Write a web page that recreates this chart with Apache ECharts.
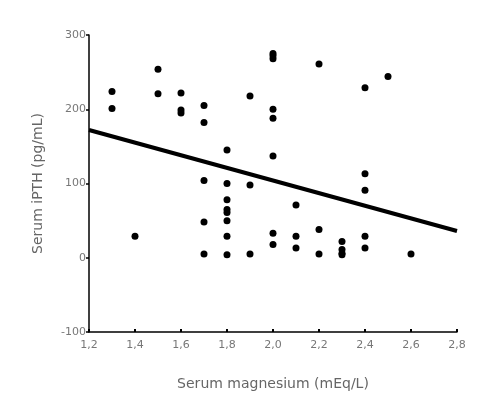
<!DOCTYPE html>
<html>
<head>
<meta charset="utf-8">
<script src="https://cdn.jsdelivr.net/npm/echarts@6/dist/echarts.min.js"></script>
<style>
  html, body { margin: 0; padding: 0; background: #fff; }
  #chart { width: 495px; height: 397px; }
</style>
</head>
<body>
<div id="chart"></div>
<script>
// magnesium (mEq/L) vs iPTH (pg/mL)
const magnesium = [
  1.3, 1.3,
  1.4,
  1.5, 1.5,
  1.6, 1.6, 1.6,
  1.7, 1.7, 1.7, 1.7, 1.7,
  1.8, 1.8, 1.8, 1.8, 1.8, 1.8, 1.8, 1.8,
  1.9, 1.9, 1.9,
  2.0, 2.0, 2.0, 2.0, 2.0, 2.0, 2.0, 2.0,
  2.1, 2.1, 2.1,
  2.2, 2.2, 2.2,
  2.3, 2.3, 2.3, 2.3,
  2.4, 2.4, 2.4, 2.4, 2.4,
  2.5,
  2.6
];
const ipth = [
  224, 201,
  29,
  254, 221,
  222, 199, 195,
  205, 182, 104, 48, 5,
  145, 100, 78, 65, 61, 50, 29, 4,
  218, 98, 5,
  275, 272, 268, 200, 188, 137, 33, 18,
  71, 29, 13,
  261, 38, 5,
  22, 11, 6, 4,
  229, 113, 91, 29, 13,
  244,
  5
];
// regression line end points
const fitX = [1.2, 2.8];
const fitY = [172, 36];

const points = magnesium.map((m, i) => [m, ipth[i]]);
const fitLine = fitX.map((x, i) => [x, fitY[i]]);

const myChart = echarts.init(document.getElementById('chart'));
const font = 'DejaVu Sans, sans-serif';
const labelStyle = { color: '#777', fontSize: 11, fontFamily: font };

let option = {
  backgroundColor: '#fff',
  animation: false,
  grid: { left: 89, right: 38, top: 35, bottom: 65 },
  xAxis: {
    type: 'value',
    min: 1.2, max: 2.8, interval: 0.2,
    name: 'Serum magnesium (mEq/L)',
    nameLocation: 'middle',
    nameGap: 45,
    nameTextStyle: { color: '#666', fontSize: 14, fontFamily: font },
    axisLine: { onZero: false, lineStyle: { color: '#000', width: 1.5 } },
    axisTick: { length: 3, inside: true, lineStyle: { color: '#000', width: 2 } },
    axisLabel: Object.assign({ margin: 8, formatter: v => v.toFixed(1).replace('.', ',') }, labelStyle),
    splitLine: { show: false }
  },
  yAxis: {
    type: 'value',
    min: -100, max: 300, interval: 100,
    name: 'Serum iPTH (pg/mL)',
    nameLocation: 'middle',
    nameGap: 44,
    nameTextStyle: { color: '#666', fontSize: 14, fontFamily: font },
    axisLine: { show: true, onZero: false, lineStyle: { color: '#000', width: 1.5 } },
    axisTick: { show: true, length: 3, lineStyle: { color: '#000', width: 1.5 } },
    axisLabel: Object.assign({ margin: 3 }, labelStyle),
    splitLine: { show: false }
  },
  series: [
    {
      type: 'scatter',
      data: points,
      symbolSize: 7,
      itemStyle: { color: '#000', opacity: 1 }
    },
    {
      type: 'line',
      data: fitLine,
      symbol: 'none',
      lineStyle: { color: '#000', width: 4 }
    }
  ]
};
option && myChart.setOption(option);
</script>
</body>
</html>
